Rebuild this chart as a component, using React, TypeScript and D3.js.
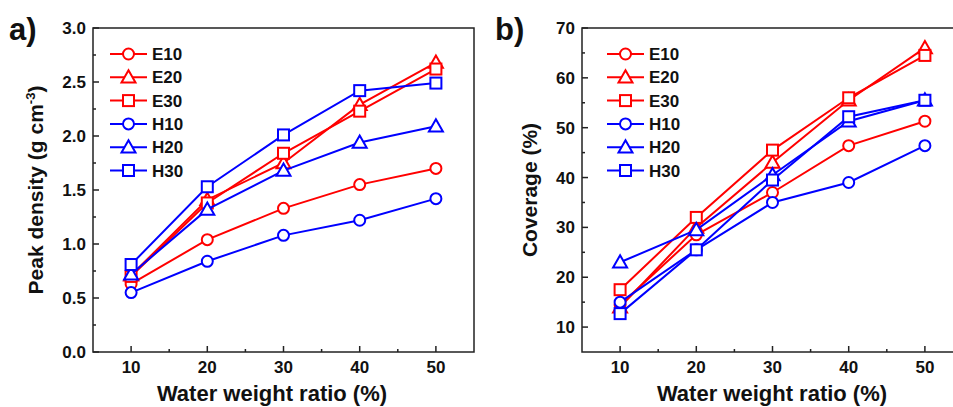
import React, { useEffect, useRef } from 'react';
import * as d3 from 'd3';

const ratios = [10, 20, 30, 40, 50];
const seriesNames = ['E10', 'E20', 'E30', 'H10', 'H20', 'H30'];
const seriesColors = ['#ff0000', '#ff0000', '#ff0000', '#0000ff', '#0000ff', '#0000ff'];
const seriesShapes = ['circle', 'triangle', 'square', 'circle', 'triangle', 'square'];

// panel a) peak density (g cm-3)
const densE10 = [0.63, 1.04, 1.33, 1.55, 1.70];
const densE20 = [0.71, 1.41, 1.75, 2.29, 2.68];
const densE30 = [0.70, 1.38, 1.84, 2.23, 2.62];
const densH10 = [0.55, 0.84, 1.08, 1.22, 1.42];
const densH20 = [0.72, 1.32, 1.68, 1.94, 2.09];
const densH30 = [0.81, 1.53, 2.01, 2.42, 2.49];

// panel b) coverage (%)
const covE10 = [14.5, 28.5, 37.0, 46.4, 51.3];
const covE20 = [14.0, 30.0, 43.0, 55.5, 66.0];
const covE30 = [17.5, 32.0, 45.5, 56.0, 64.5];
const covH10 = [15.0, 25.5, 35.0, 39.0, 46.4];
const covH20 = [23.0, 29.5, 40.5, 51.3, 55.5];
const covH30 = [12.7, 25.5, 39.5, 52.2, 55.5];

const densTicks = [0, 0.5, 1.0, 1.5, 2.0, 2.5, 3.0];
const covTicks = [10, 20, 30, 40, 50, 60, 70];

const App = () => {
  const svgRef = useRef<SVGSVGElement>(null);

  useEffect(() => {
    const svg = d3.select(svgRef.current);
    svg.selectAll('*').remove();
    const font = 'Liberation Sans, Arial, sans-serif';

    const drawPanel = (opts: any) => {
      const { left, right, top, bottom, yDomain, yTicks, yMinor, yFmt, data, yTitle, yTitleX, xTitleX, letter, letterX, legendX } = opts;
      const g = svg.append('g');

      const x = d3.scaleLinear().domain([5, 55]).range([left, right]);
      const y = d3.scaleLinear().domain(yDomain).range([bottom, top]);

      // frame
      g.append('rect')
        .attr('x', left).attr('y', top)
        .attr('width', right - left).attr('height', bottom - top)
        .attr('fill', 'none').attr('stroke', '#222').attr('stroke-width', 1.5);

      // x ticks (inward)
      const xMinor = [15, 25, 35, 45];
      ratios.forEach(v => {
        g.append('line').attr('x1', x(v)).attr('x2', x(v)).attr('y1', bottom).attr('y2', bottom - 6)
          .attr('stroke', '#222').attr('stroke-width', 1.5);
        g.append('text').attr('x', x(v)).attr('y', bottom + 21).attr('text-anchor', 'middle')
          .attr('font-family', font).attr('font-weight', 'bold').attr('font-size', 17).attr('fill', '#111')
          .text(v);
      });
      xMinor.forEach(v => {
        g.append('line').attr('x1', x(v)).attr('x2', x(v)).attr('y1', bottom).attr('y2', bottom - 3)
          .attr('stroke', '#222').attr('stroke-width', 1.5);
      });

      // y ticks (inward)
      yTicks.forEach((v: number) => {
        g.append('line').attr('x1', left).attr('x2', left + 6).attr('y1', y(v)).attr('y2', y(v))
          .attr('stroke', '#222').attr('stroke-width', 1.5);
        g.append('text').attr('x', left - 7).attr('y', y(v) + 6).attr('text-anchor', 'end')
          .attr('font-family', font).attr('font-weight', 'bold').attr('font-size', 17).attr('fill', '#111')
          .text(yFmt(v));
      });
      yMinor.forEach((v: number) => {
        g.append('line').attr('x1', left).attr('x2', left + 3).attr('y1', y(v)).attr('y2', y(v))
          .attr('stroke', '#222').attr('stroke-width', 1.5);
      });

      // titles
      g.append('text').attr('x', xTitleX).attr('y', 401)
        .attr('text-anchor', 'middle').attr('font-family', font).attr('font-weight', 'bold')
        .attr('font-size', 22).attr('fill', '#111').text('Water weight ratio (%)');
      g.append('text')
        .attr('transform', `translate(${yTitleX}, ${(top + bottom) / 2}) rotate(-90)`)
        .attr('text-anchor', 'middle').attr('font-family', font).attr('font-weight', 'bold')
        .attr('font-size', 21).attr('fill', '#111').call(yTitle);
      g.append('text').attr('x', letterX).attr('y', 40)
        .attr('font-family', font).attr('font-weight', 'bold').attr('font-size', 31).attr('fill', '#111')
        .text(letter);

      const marker = (sel: any, shape: string, cx: number, cy: number, color: string) => {
        if (shape === 'circle') {
          sel.append('circle').attr('cx', cx).attr('cy', cy).attr('r', 5.5)
            .attr('fill', 'white').attr('stroke', color).attr('stroke-width', 2);
        } else if (shape === 'triangle') {
          const s = 7;
          sel.append('path')
            .attr('d', `M${cx},${cy - s} L${cx + s},${cy + s * 0.75} L${cx - s},${cy + s * 0.75} Z`)
            .attr('fill', 'white').attr('stroke', color).attr('stroke-width', 2);
        } else {
          sel.append('rect').attr('x', cx - 5.5).attr('y', cy - 5.5).attr('width', 11).attr('height', 11)
            .attr('fill', 'white').attr('stroke', color).attr('stroke-width', 2);
        }
      };

      const line = d3.line<number>().x((_, i) => x(ratios[i])).y(d => y(d));
      data.forEach((vals: number[], k: number) => {
        g.append('path').datum(vals).attr('d', line).attr('fill', 'none')
          .attr('stroke', seriesColors[k]).attr('stroke-width', 2);
        vals.forEach((v, i) => marker(g, seriesShapes[k], x(ratios[i]), y(v), seriesColors[k]));
      });

      // legend
      seriesNames.forEach((name, k) => {
        const ly = 54 + k * 23.3;
        g.append('line').attr('x1', legendX).attr('x2', legendX + 37).attr('y1', ly).attr('y2', ly)
          .attr('stroke', seriesColors[k]).attr('stroke-width', 2);
        marker(g, seriesShapes[k], legendX + 18.5, ly, seriesColors[k]);
        g.append('text').attr('x', legendX + 42).attr('y', ly + 6)
          .attr('font-family', font).attr('font-weight', 'bold').attr('font-size', 17).attr('fill', '#111')
          .text(name);
      });
    };

    drawPanel({
      left: 93, right: 474, top: 28, bottom: 352,
      yDomain: [0, 3], yTicks: densTicks, yMinor: d3.range(0.25, 3, 0.5),
      yFmt: (v: number) => v.toFixed(1),
      data: [densE10, densE20, densE30, densH10, densH20, densH30],
      yTitle: (t: any) => {
        t.append('tspan').text('Peak density (g cm');
        t.append('tspan').attr('dy', -8).attr('font-size', 13).text('-3');
        t.append('tspan').attr('dy', 8).text(')');
      },
      yTitleX: 43, xTitleX: 272, letter: 'a)', letterX: 9, legendX: 110,
    });

    drawPanel({
      left: 582, right: 963, top: 28, bottom: 352,
      yDomain: [5, 70], yTicks: covTicks, yMinor: d3.range(15, 70, 10),
      yFmt: (v: number) => String(v),
      data: [covE10, covE20, covE30, covH10, covH20, covH30],
      yTitle: (t: any) => t.text('Coverage (%)'),
      yTitleX: 537, xTitleX: 772, letter: 'b)', letterX: 495, legendX: 607,
    });
  }, []);

  return (
    <svg ref={svgRef} width={953} height={407}
      style={{ position: 'absolute', left: 0, top: 0, background: 'white' }} />
  );
};

export default App;
